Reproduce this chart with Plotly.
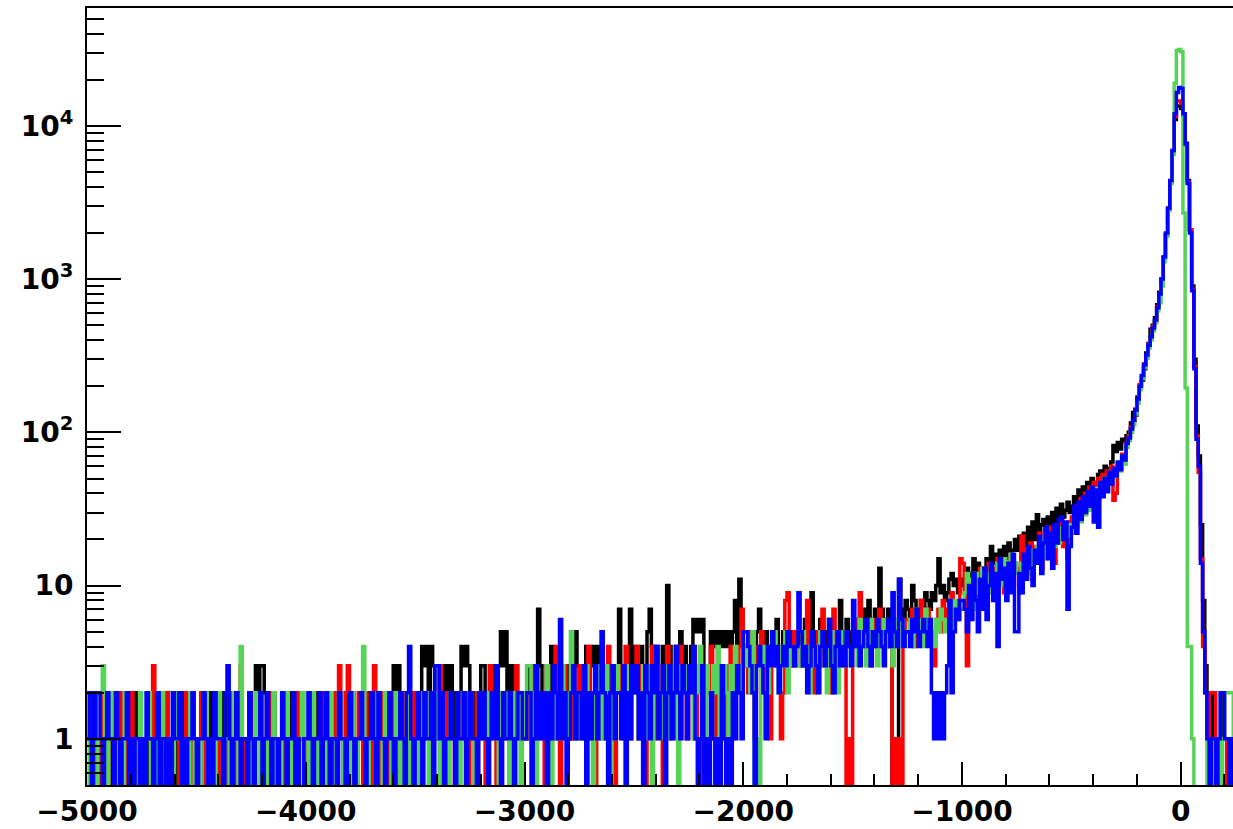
import plotly.graph_objects as go

# binning of the histograms
bin_lo = -5000
bin_width = 10

# ---- counts per bin, rows of 25 bins (250 units each) ----
black_rows = [
    [1,1,0,2,1,0,1,1,0,1,2,0,1,1,0,2,1,0,1,0,1,1,2,0,1],
    [0,1,1,0,2,1,0,1,1,0,1,2,1,0,1,1,0,1,2,0,1,1,0,1,0],
    [1,0,2,1,2,2,1,2,2,1,2,2,1,2,1,2,0,1,1,0,1,0,1,1,2],
    [1,1,3,2,3,3,2,1,0,1,2,1,0,1,1,2,1,0,2,1,1,0,1,2,1],
    [1,0,2,1,1,2,0,1,1,2,1,0,2,1,2,2,1,0,1,2,1,2,1,0,1],
    [2,1,1,0,2,1,1,2,0,2,1,2,1,0,2,3,2,3,1,2,0,1,2,1,2],
    [1,2,2,4,3,4,2,4,3,2,1,2,3,2,3,2,3,1,2,0,2,4,3,4,3],
    [2,1,2,0,2,3,3,1,2,3,2,3,2,3,5,3,5,1,3,2,3,1,2,2,1],
    [2,3,1,2,3,2,7,3,2,1,3,2,4,3,2,1,3,2,3,2,3,1,2,5,3],
    [2,3,2,4,1,3,4,3,4,2,3,2,3,1,3,2,3,2,7,3,2,3,2,7,3],
    [4,3,2,4,3,2,5,7,4,3,4,2,3,4,3,10,4,3,2,4,3,5,3,4,3],
    [3,4,6,5,6,5,6,3,2,3,5,4,5,4,5,4,5,4,5,4,5,8,4,11,4],
    [3,4,5,3,4,2,5,7,4,3,5,4,3,5,4,6,3,4,5,3,4,5,3,4,5],
    [4,5,3,6,4,5,9,4,5,3,6,4,5,4,6,3,5,4,5,8,4,5,6,4,5],
    [6,5,4,6,5,7,5,8,6,5,7,6,13,7,6,5,7,4,0,1,0,11,7,6,8],
    [7,6,10,8,7,6,8,7,9,8,7,9,8,10,15,9,10,8,9,11,12,10,11,9,10],
    [11,10,13,9,12,15,12,14,11,13,10,15,12,18,14,16,12,17,13,18,15,19,14,17,20],
    [17,21,15,22,18,24,19,26,20,29,22,25,27,21,28,23,30,25,32,26,34,28,31,35,30],
    [33,38,31,42,36,44,40,47,43,50,47,45,53,56,50,60,58,55,64,82,75,86,78,90,88],
    [95,100,115,135,130,170,195,220,260,330,380,470,500,560,680,820,1000,1380,1950,2900,4350,6800,11000,13500,13500],
    [13000,11800,7700,4400,2100,900,300,110,70,25,8,3,1,1,2,1,0,1,1,2,1,0,1,0,1],
]

red_rows = [
    [2,2,1,0,1,0,1,2,1,0,2,1,1,0,1,2,1,0,1,1,2,0,1,0,1],
    [1,0,1,2,1,3,1,0,1,1,0,2,1,0,1,1,2,0,1,0,2,1,0,1,1],
    [0,1,2,1,0,1,1,0,1,2,0,1,1,0,1,2,1,0,1,2,3,1,0,1,2],
    [1,0,1,2,1,0,1,1,0,2,1,0,1,1,2,0,1,0,1,1,0,2,1,1,0],
    [1,1,0,2,1,0,1,1,2,0,1,1,0,2,1,3,1,0,2,3,1,1,0,1,2],
    [1,0,2,1,1,0,3,1,0,2,1,1,0,1,2,1,0,1,1,2,0,1,1,0,2],
    [1,2,0,1,1,2,1,0,2,1,1,3,1,0,2,1,2,1,0,1,2,1,1,2,0],
    [2,1,0,2,1,1,2,0,1,3,1,2,0,1,2,1,1,2,0,2,1,3,1,1,2],
    [1,2,1,3,0,2,1,2,1,0,3,2,1,2,4,1,0,2,3,1,2,1,3,2,1],
    [3,2,1,2,4,1,2,0,3,2,1,3,2,4,1,2,0,3,2,3,1,4,2,1,3],
    [2,4,1,3,2,0,3,2,4,1,3,2,3,0,2,4,1,3,2,1,3,4,2,3,1],
    [3,2,4,1,3,2,0,1,3,2,4,1,2,0,3,2,1,3,2,4,1,3,2,4,7],
    [3,4,2,5,3,1,4,3,5,2,4,3,1,4,5,3,4,1,2,8,9,4,3,5,4],
    [4,3,5,4,8,3,5,2,4,5,3,7,4,3,5,2,7,4,3,5,4,3,0,1,0],
    [5,4,6,9,5,4,6,5,3,6,4,5,7,4,5,6,4,5,0,1,0,1,0,5,6],
    [6,5,7,4,6,5,8,6,5,7,6,5,3,6,7,5,8,6,7,5,9,7,6,8,15],
    [14,9,3,6,10,12,7,11,13,8,12,9,14,10,13,8,15,11,12,9,14,11,16,10,14],
    [13,9,21,12,17,14,19,11,18,15,22,13,20,17,24,16,21,14,25,19,27,18,24,15,26],
    [28,24,33,27,37,30,40,33,44,36,47,39,50,42,53,45,56,48,60,36,40,62,58,72,68],
    [86,95,108,118,142,160,205,230,280,315,375,410,490,530,660,790,990,1380,1950,2850,4300,6800,11500,14500,14500],
    [14000,11500,7500,4300,2100,860,270,95,55,15,4,2,1,2,2,2,1,0,1,1,1,0,1,1,1],
]

green_rows = [
    [1,0,1,1,0,1,2,3,1,0,1,2,1,0,1,1,0,2,1,0,1,1,0,1,2],
    [0,1,1,2,0,1,0,1,1,2,1,0,1,1,0,1,2,1,0,1,1,0,2,1,0],
    [1,0,1,1,2,0,1,1,0,1,2,1,0,1,1,0,1,2,1,0,4,1,1,0,1],
    [0,1,2,1,0,1,1,0,1,1,2,0,1,0,1,1,2,1,0,1,1,0,1,2,1],
    [1,0,1,2,1,0,1,1,0,1,1,2,1,0,1,2,1,0,1,1,0,2,1,0,1],
    [1,4,1,0,1,1,2,0,1,1,0,2,1,1,0,1,2,1,0,1,1,2,0,1,1],
    [1,0,2,1,1,2,0,1,1,2,1,0,2,1,1,0,2,1,1,2,0,1,2,1,1],
    [2,1,0,1,2,1,1,2,0,1,2,1,1,0,2,1,2,1,0,2,1,1,2,0,2],
    [1,3,3,1,2,0,2,1,2,1,3,1,0,2,1,2,1,3,1,2,1,5,2,1,2],
    [2,1,2,3,1,2,0,2,3,1,2,1,3,2,0,2,1,3,2,2,1,3,2,1,2],
    [3,2,1,2,3,1,2,3,0,2,3,2,1,3,2,3,1,2,3,2,0,3,2,3,2],
    [2,3,1,3,2,4,2,1,3,2,1,3,2,4,1,2,3,2,1,3,2,4,3,2,3],
    [4,3,4,2,5,0,1,0,3,4,3,2,4,3,5,3,2,4,3,5,2,4,3,4,3],
    [3,4,5,3,4,2,5,3,4,3,5,4,3,2,4,5,3,4,2,5,4,3,5,4,3],
    [4,5,3,6,4,5,3,4,6,4,5,3,5,4,6,5,4,5,3,6,4,5,6,4,5],
    [5,6,4,5,7,5,6,4,7,5,6,5,4,6,5,7,6,5,6,7,5,8,6,7,7],
    [7,9,12,8,11,7,12,9,10,13,8,12,9,13,11,10,14,10,12,15,11,13,16,12,14],
    [12,10,14,11,15,12,17,13,15,18,14,17,20,15,19,16,21,18,22,19,24,20,23,21,25],
    [22,28,24,31,26,34,29,37,31,40,34,43,37,46,40,50,43,53,47,57,52,60,56,66,62],
    [80,88,100,112,132,155,190,225,265,305,355,400,460,520,620,700,900,1300,1900,2800,4200,6500,19000,31000,31500],
    [30500,2700,195,4,4,1,0,0,0,0,0,0,1,0,1,0,1,1,0,1,2,2,2,2,1],
]

blue_rows = [
    [1,2,0,1,2,2,1,0,1,2,1,1,0,2,1,0,1,1,2,0,1,0,1,1,0],
    [1,0,2,1,1,0,1,2,0,1,1,0,1,0,2,1,1,2,0,1,0,1,1,2,1],
    [0,1,1,2,1,0,1,0,2,1,1,1,0,2,3,1,0,1,2,1,0,1,1,0,2],
    [1,0,1,1,2,0,1,2,1,0,1,1,0,1,2,1,0,1,1,2,0,1,0,0,1],
    [1,2,1,0,1,1,2,0,1,2,1,0,1,1,0,2,1,1,0,1,2,1,0,1,1],
    [2,1,0,1,1,2,1,0,2,1,1,0,1,2,1,0,1,1,2,1,0,2,4,1,0],
    [1,2,1,0,2,1,1,2,0,3,3,1,2,0,1,1,2,1,0,2,1,1,2,0,1],
    [2,1,1,0,2,1,2,1,0,1,2,1,3,1,0,2,1,1,2,1,0,1,2,2,1],
    [1,2,2,0,1,3,1,2,1,2,0,2,1,3,2,1,6,1,2,0,1,2,3,1,2],
    [2,1,3,0,2,1,2,3,1,2,5,2,1,0,2,3,1,2,2,1,3,0,2,1,3],
    [2,3,1,2,0,3,2,1,3,2,4,1,2,3,0,2,3,1,2,4,2,1,3,2,1],
    [3,2,4,1,0,1,3,0,1,0,2,1,0,1,0,3,1,0,1,0,2,1,3,2,1],
    [5,5,4,3,2,0,3,4,3,2,1,4,3,5,3,4,2,3,4,3,5,4,4,3,4],
    [9,5,3,4,2,3,5,4,3,2,4,5,3,4,6,3,2,4,5,3,4,3,5,4,3],
    [8,4,5,3,4,5,6,4,3,5,4,6,5,4,3,5,6,4,9,5,4,11,6,4,5],
    [5,4,6,5,7,4,5,6,5,4,6,2,1,2,1,2,1,2,3,8,2,5,7,6,8],
    [8,7,5,10,6,12,8,5,11,7,13,6,10,14,8,12,4,15,11,13,8,14,9,16,5],
    [5,12,9,16,11,18,13,10,17,14,21,12,19,24,15,22,13,25,19,27,28,20,26,7,18],
    [24,33,22,35,27,38,30,41,33,44,26,42,24,47,38,50,41,55,46,58,52,64,57,70,66],
    [85,92,105,120,140,165,200,235,275,320,370,420,480,540,650,800,1000,1400,2000,2900,4400,6900,12000,16500,17800],
    [17500,12000,7600,4200,2000,840,260,90,60,14,5,2,1,0,1,1,0,1,2,2,1,1,0,1,1],
]

y_tick_vals = [1, 10, 100, 1000, 10000]
y_tick_text = ["1", "10", "10<sup>2</sup>", "10<sup>3</sup>", "10<sup>4</sup>"]
x_tick_vals = [-5000, -4000, -3000, -2000, -1000, 0]


def flatten(rows):
    out = []
    for r in rows:
        assert len(r) == 25, len(r)
        out.extend(r)
    return out


series = [
    ("black", flatten(black_rows), "#000000"),
    ("red", flatten(red_rows), "#ff0000"),
    ("green", flatten(green_rows), "#57d357"),
    ("blue", flatten(blue_rows), "#0000ff"),
]

nb = len(series[0][1])
edges = [bin_lo + bin_width * i for i in range(nb + 1)]
floor_val = 0.05  # empty bins drop below the log axis minimum

fig = go.Figure()
for name, counts, color in series:
    yv = [c if c > 0 else floor_val for c in counts]
    yv = yv + [yv[-1]]
    fig.add_trace(go.Scatter(x=edges, y=yv, mode="lines", line_shape="hv",
                             line=dict(color=color, width=3.5), name=name,
                             hoverinfo="skip"))

minor_y = []
for dec in [0.1, 1, 10, 100, 1000, 10000]:
    for m in range(2, 10):
        v = m * dec
        if 0.5 <= v <= 58000:
            minor_y.append(v)

tick_font = dict(family="DejaVu Sans", size=28, color="black", weight="bold")

fig.update_layout(
    width=1233, height=829,
    margin=dict(l=87, r=0, t=8, b=44),
    plot_bgcolor="white", paper_bgcolor="white",
    showlegend=False,
    font=dict(family="DejaVu Sans", size=28, color="black"),
)
fig.update_xaxes(
    range=[-5000, 238.9], showgrid=False, zeroline=False,
    showline=True, linecolor="black", linewidth=2, mirror=True,
    ticks="inside", ticklen=23, tickwidth=2, tickcolor="black",
    tickvals=x_tick_vals, tickfont=tick_font,
    minor=dict(ticks="inside", ticklen=11, tickwidth=2, tickcolor="black",
               dtick=200, tick0=0, showgrid=False),
)
fig.update_yaxes(
    type="log", range=[-0.301, 4.769], showgrid=False, zeroline=False,
    showline=True, linecolor="black", linewidth=2,
    ticks="inside", ticklen=34, tickwidth=2, tickcolor="black",
    tickvals=y_tick_vals, ticktext=y_tick_text, tickfont=tick_font,
    ticklabelstandoff=6,
    minor=dict(ticks="inside", ticklen=17, tickwidth=2, tickcolor="black",
               tickvals=minor_y, showgrid=False),
)

fig.write_html("out.html", config={"displayModeBar": False},
               post_script="document.body.style.margin='0';")
